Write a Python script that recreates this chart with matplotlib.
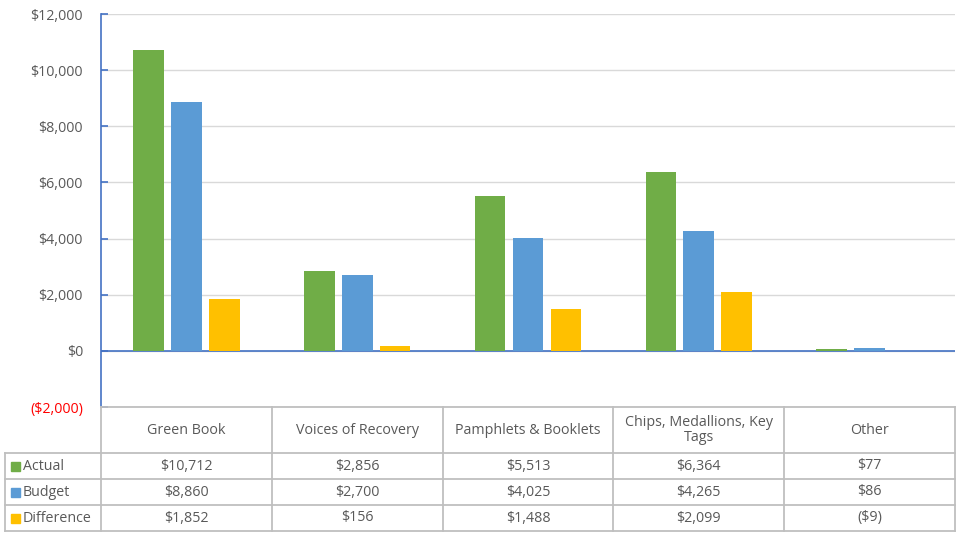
import matplotlib.pyplot as plt
import numpy as np
from matplotlib.ticker import FuncFormatter

plt.rcParams['font.family'] = ['Open Sans', 'DejaVu Sans']

# sales by category
categories = ['Green Book', 'Voices of Recovery', 'Pamphlets & Booklets',
              'Chips, Medallions, Key\nTags', 'Other']
series = ['Actual', 'Budget', 'Difference']
actual = [10712, 2856, 5513, 6364, 77]
budget = [8860, 2700, 4025, 4265, 86]
difference = [1852, 156, 1488, 2099, -9]
colors = ['#70AD47', '#5B9BD5', '#FFC000']

W, H = 959, 534
fig = plt.figure(figsize=(W / 100, H / 100), dpi=100)

def fx(px):
    return px / W

def fy(py):
    return 1 - py / H

# bar chart area
left, right, top, bottom = 101, 955, 14, 407
ax = fig.add_axes([fx(left), fy(bottom), fx(right - left), fy(top) - fy(bottom)])
x = np.arange(len(categories))
bw = 0.18
step = 0.222
for i, (vals, c) in enumerate(zip([actual, budget, difference], colors)):
    ax.bar(x + (i - 1) * step, vals, bw, color=c, zorder=3)

ax.set_xlim(-0.5, len(categories) - 0.5)
ax.set_ylim(-2000, 12000)
ax.set_yticks(np.arange(-2000, 12001, 2000))

def money(v, pos=None):
    if v < 0:
        return '(${:,.0f})'.format(-v)
    return '${:,.0f}'.format(v)

fs = 10.3
ax.yaxis.set_major_formatter(FuncFormatter(money))
ax.tick_params(axis='y', direction='in', length=5, width=1.2, color='#4472C4',
               labelsize=fs, labelcolor='#595959', pad=13)
ax.get_yticklabels()[0].set_color('#FF0000')
ax.tick_params(axis='x', bottom=False, labelbottom=False)
ax.grid(axis='y', color='#D9D9D9', lw=1, zorder=0)
ax.axhline(0, color='#4472C4', lw=1.2, zorder=2)
for s in ['top', 'right', 'bottom']:
    ax.spines[s].set_visible(False)
ax.spines['left'].set_color('#4472C4')
ax.spines['left'].set_linewidth(1.2)

# data table under the chart
tab = fig.add_axes([fx(5), fy(531), fx(955 - 5), fy(407) - fy(531)])
tab.axis('off')
colw = (right - left) / len(categories)
tab.set_xlim(5, 955)
tab.set_ylim(531, 407)
grid_c = '#BFBFBF'
row_y = [407, 453, 479, 505, 531]
tab.plot([left, right], [407, 407], color=grid_c, lw=1.3, clip_on=False)
for yy in row_y[1:]:
    tab.plot([5, right], [yy, yy], color=grid_c, lw=1.3, clip_on=False)
for k in range(len(categories) + 1):
    xx = left + k * colw
    tab.plot([xx, xx], [407, 531], color=grid_c, lw=1.3, clip_on=False)
tab.plot([5, 5], [453, 531], color=grid_c, lw=1.3, clip_on=False)

for k, cat in enumerate(categories):
    tab.text(left + (k + 0.5) * colw, 430, cat, ha='center', va='center',
             fontsize=fs, color='#595959', linespacing=1.05)

for r, (name, vals, c) in enumerate(zip(series, [actual, budget, difference], colors)):
    yc = (row_y[r + 1] + row_y[r + 2]) / 2
    tab.add_patch(plt.Rectangle((11, yc - 4.5), 9, 9, color=c, clip_on=False))
    tab.text(23, yc, name, ha='left', va='center', fontsize=fs, color='#595959')
    for k, v in enumerate(vals):
        tab.text(left + (k + 0.5) * colw, yc, money(v), ha='center', va='center',
                 fontsize=fs, color='#595959')

fig.savefig('out.png', dpi=100)
